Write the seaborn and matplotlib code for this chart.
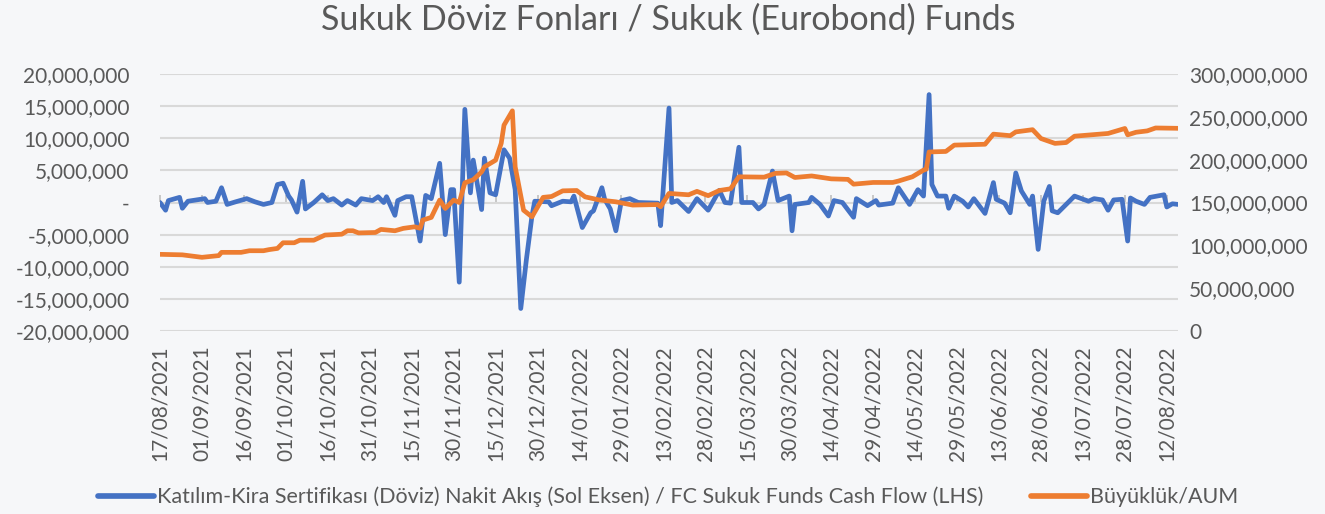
import matplotlib
matplotlib.use("Agg")
import matplotlib.pyplot as plt
import matplotlib.dates as mdates
from matplotlib.ticker import FuncFormatter, MultipleLocator
from matplotlib.lines import Line2D
import seaborn as sns
import pandas as pd

# ---------------- data ----------------
title = "Sukuk Döviz Fonları / Sukuk (Eurobond) Funds"
flow_label = "Katılım-Kira Sertifikası (Döviz) Nakit Akış (Sol Eksen) / FC Sukuk Funds Cash Flow (LHS)"
aum_label = "Büyüklük/AUM"

flow_dates = [
    "2021-08-17", "2021-08-19", "2021-08-20", "2021-08-24", "2021-08-25", "2021-08-27",
    "2021-09-02", "2021-09-03", "2021-09-06", "2021-09-08", "2021-09-10", "2021-09-13",
    "2021-09-17", "2021-09-20", "2021-09-23", "2021-09-26", "2021-09-28", "2021-09-30",
    "2021-10-02", "2021-10-03", "2021-10-05", "2021-10-07", "2021-10-08", "2021-10-11",
    "2021-10-14", "2021-10-16", "2021-10-18", "2021-10-21", "2021-10-23", "2021-10-26",
    "2021-10-28", "2021-11-01", "2021-11-03", "2021-11-05", "2021-11-06", "2021-11-09",
    "2021-11-10", "2021-11-13", "2021-11-15", "2021-11-18", "2021-11-20", "2021-11-22",
    "2021-11-25", "2021-11-27", "2021-11-29", "2021-11-30", "2021-12-02", "2021-12-04",
    "2021-12-06", "2021-12-07", "2021-12-10", "2021-12-11", "2021-12-13", "2021-12-15",
    "2021-12-18", "2021-12-20", "2021-12-22", "2021-12-24", "2021-12-26", "2021-12-28",
    "2021-12-29", "2022-01-03", "2022-01-04", "2022-01-08", "2022-01-11", "2022-01-12",
    "2022-01-15", "2022-01-18", "2022-01-19", "2022-01-22", "2022-01-23", "2022-01-25",
    "2022-01-27", "2022-01-29", "2022-02-01", "2022-02-04", "2022-02-11", "2022-02-12",
    "2022-02-15", "2022-02-16", "2022-02-18", "2022-02-22", "2022-02-25", "2022-03-01",
    "2022-03-05", "2022-03-07", "2022-03-09", "2022-03-12", "2022-03-13", "2022-03-17",
    "2022-03-19", "2022-03-21", "2022-03-24", "2022-03-26", "2022-03-30", "2022-03-31",
    "2022-04-01", "2022-04-06", "2022-04-07", "2022-04-10", "2022-04-13", "2022-04-15",
    "2022-04-18", "2022-04-22", "2022-04-23", "2022-04-27", "2022-04-30", "2022-05-01",
    "2022-05-06", "2022-05-08", "2022-05-12", "2022-05-15", "2022-05-17", "2022-05-19",
    "2022-05-20", "2022-05-22", "2022-05-25", "2022-05-26", "2022-05-28", "2022-05-31",
    "2022-06-02", "2022-06-04", "2022-06-08", "2022-06-11", "2022-06-12", "2022-06-15",
    "2022-06-17", "2022-06-19", "2022-06-21", "2022-06-24", "2022-06-25", "2022-06-27",
    "2022-06-29", "2022-07-01", "2022-07-02", "2022-07-04", "2022-07-07", "2022-07-10",
    "2022-07-15", "2022-07-17", "2022-07-20", "2022-07-22", "2022-07-24", "2022-07-27",
    "2022-07-29", "2022-07-30", "2022-08-01", "2022-08-04", "2022-08-06", "2022-08-11",
    "2022-08-12", "2022-08-14", "2022-08-16",
]
# cash flow, million
flow_values_m = [
    0.0, -1.2, 0.3, 0.8, -0.9, 0.2,
    0.6, 0.0, 0.2, 2.3, -0.3, 0.1,
    0.6, 0.1, -0.3, 0.0, 2.8, 3.0,
    1.0, 0.4, -1.5, 3.3, -1.0, 0.0,
    1.2, 0.3, 0.6, -0.4, 0.3, -0.4,
    0.6, 0.3, 0.9, 0.0, 0.9, -2.0,
    0.3, 0.9, 0.9, -6.0, 1.1, 0.6,
    6.1, -5.0, 2.0, 2.0, -12.4, 14.5,
    1.5, 6.6, -1.1, 6.9, 1.5, 1.2,
    8.2, 6.9, 2.0, -16.5, -8.9, -2.1,
    0.2, 0.1, -0.5, 0.2, 0.1, 1.0,
    -3.9, -1.6, -1.3, 2.3, 0.5, -1.0,
    -4.4, 0.3, 0.6, 0.0, -0.1, -3.6,
    14.7, 0.0, 0.3, -1.4, 0.6, -1.2,
    1.9, 0.0, -0.1, 8.6, 0.0, 0.0,
    -1.0, -0.3, 4.9, 0.3, 1.0, -4.4,
    -0.3, 0.0, 0.8, -0.3, -2.1, 0.3,
    0.0, -2.3, 0.6, -0.5, 0.3, -0.4,
    -0.1, 2.3, -0.3, 2.0, 1.0, 16.8,
    2.8, 1.0, 1.0, -0.9, 1.0, 0.2,
    -0.7, 0.6, -1.7, 3.1, 0.5, -0.1,
    -1.6, 4.6, 1.8, -0.3, 1.0, -7.3,
    0.2, 2.5, -1.3, -1.6, -0.3, 1.0,
    0.2, 0.6, 0.4, -1.2, 0.4, 0.5,
    -6.0, 0.7, 0.2, -0.3, 0.8, 1.2,
    -0.7, -0.2, -0.3,
]

aum_dates = [
    "2021-08-17", "2021-08-25", "2021-09-01", "2021-09-07", "2021-09-08", "2021-09-15",
    "2021-09-18", "2021-09-23", "2021-09-25", "2021-09-28", "2021-09-30", "2021-10-04",
    "2021-10-06", "2021-10-11", "2021-10-15", "2021-10-21", "2021-10-23", "2021-10-25",
    "2021-10-27", "2021-11-02", "2021-11-04", "2021-11-09", "2021-11-12", "2021-11-16",
    "2021-11-18", "2021-11-19", "2021-11-22", "2021-11-25", "2021-11-27", "2021-11-30",
    "2021-12-02", "2021-12-04", "2021-12-07", "2021-12-10", "2021-12-11", "2021-12-15",
    "2021-12-17", "2021-12-18", "2021-12-21", "2021-12-22", "2021-12-25", "2021-12-28",
    "2022-01-01", "2022-01-04", "2022-01-08", "2022-01-13", "2022-01-16", "2022-01-21",
    "2022-01-27", "2022-02-02", "2022-02-11", "2022-02-12", "2022-02-15", "2022-02-22",
    "2022-02-25", "2022-03-01", "2022-03-05", "2022-03-09", "2022-03-12", "2022-03-21",
    "2022-03-25", "2022-03-29", "2022-04-01", "2022-04-07", "2022-04-14", "2022-04-20",
    "2022-04-22", "2022-04-29", "2022-05-06", "2022-05-08", "2022-05-13", "2022-05-17",
    "2022-05-18", "2022-05-19", "2022-05-25", "2022-05-28", "2022-06-08", "2022-06-11",
    "2022-06-17", "2022-06-19", "2022-06-25", "2022-06-28", "2022-07-03", "2022-07-07",
    "2022-07-10", "2022-07-16", "2022-07-22", "2022-07-28", "2022-07-29", "2022-08-01",
    "2022-08-05", "2022-08-08", "2022-08-16",
]
# AUM, million
aum_values_m = [
    89.5, 88.9, 86.0, 88.0, 91.8, 91.8,
    93.7, 93.7, 95.0, 96.4, 103.0, 103.0,
    106.0, 106.0, 112.0, 113.0, 117.0, 117.0,
    114.5, 115.0, 118.6, 117.0, 119.8, 121.6,
    120.0, 129.5, 132.6, 152.8, 143.0, 152.8,
    150.0, 173.0, 176.5, 185.8, 191.6, 199.4,
    219.0, 240.3, 257.0, 191.6, 141.0, 133.3,
    156.0, 157.0, 163.6, 164.0, 156.6, 153.0,
    150.8, 147.0, 147.6, 145.0, 160.6, 159.0,
    163.0, 158.0, 164.0, 166.0, 180.0, 179.6,
    184.0, 184.5, 179.2, 181.0, 177.6, 177.0,
    171.4, 173.4, 173.4, 175.0, 180.0, 187.8,
    189.0, 209.0, 209.6, 217.0, 218.0, 229.8,
    228.0, 232.4, 235.0, 224.7, 219.0, 220.0,
    227.4, 229.0, 230.6, 236.4, 229.0, 232.0,
    233.6, 237.0, 236.6,
]

tick_start = "2021-08-17"
tick_end = "2022-08-12"
x_end = "2022-08-16"

# ---------------- styling ----------------
BLUE = "#4472C4"
ORANGE = "#ED7D31"
TEXT = "#595959"
GRID = "#D9D9D9"
BG = "#F6F7F9"

sns.set_theme(style="white")
plt.rcParams["font.family"] = ["Lato", "DejaVu Sans"]
plt.rcParams["text.color"] = TEXT

flow_df = pd.DataFrame({"date": pd.to_datetime(flow_dates),
                        "value": [v * 1e6 for v in flow_values_m]})
aum_df = pd.DataFrame({"date": pd.to_datetime(aum_dates),
                       "value": [v * 1e6 for v in aum_values_m]})

fig = plt.figure(figsize=(13.25, 5.14), dpi=100, facecolor=BG)
ax = fig.add_axes([160 / 1325, 1 - 331 / 514, (1178 - 160) / 1325, (331 - 74) / 514])
ax.set_facecolor("none")
ax2 = ax.twinx()
ax2.set_facecolor("none")

LW = 3.4
sns.lineplot(data=flow_df, x="date", y="value", ax=ax, color=BLUE, linewidth=LW,
             legend=False, solid_joinstyle="round", solid_capstyle="round", zorder=3)
sns.lineplot(data=aum_df, x="date", y="value", ax=ax2, color=ORANGE, linewidth=LW,
             legend=False, solid_joinstyle="round", solid_capstyle="round", zorder=4)

# axes limits and ticks
ax.set_xlim(pd.Timestamp(tick_start), pd.Timestamp(x_end))
ax.set_ylim(-20e6, 20e6)
ax2.set_ylim(0, 300e6)
ax.yaxis.set_major_locator(MultipleLocator(5e6))
ax2.yaxis.set_major_locator(MultipleLocator(50e6))


def left_fmt(v, _):
    if abs(v) < 1:
        return "-"
    return f"{v:,.0f}"


ax.yaxis.set_major_formatter(FuncFormatter(left_fmt))
ax2.yaxis.set_major_formatter(FuncFormatter(lambda v, _: f"{v:,.0f}"))

xticks = pd.date_range(tick_start, tick_end, freq="15D")
ax.set_xticks(xticks)
ax.xaxis.set_major_formatter(mdates.DateFormatter("%d/%m/%Y"))

for a in (ax, ax2):
    for s in a.spines.values():
        s.set_visible(False)
    a.set_xlabel("")
    a.set_ylabel("")

ax.grid(axis="y", color=GRID, linewidth=1.5, zorder=0)
ax.grid(axis="x", visible=False)
ax2.grid(False)

TICK_FS = 15
ax.tick_params(axis="x", length=0, pad=10, labelsize=TICK_FS, labelcolor=TEXT, labelrotation=90)
ax.tick_params(axis="y", length=0, pad=22, labelsize=TICK_FS, labelcolor=TEXT)
ax2.tick_params(axis="y", length=0, pad=8, labelsize=TICK_FS, labelcolor=TEXT)

# small category-axis tick marks on the zero line
sec = ax.secondary_xaxis(0.5)
sec.set_xticks(xticks)
sec.tick_params(axis="x", direction="out", length=5, width=1.2, color="#BFBFBF",
                labelbottom=False, labeltop=False)
for s in sec.spines.values():
    s.set_visible(False)

fig.text(0.504, 0.962, title, ha="center", va="center", fontsize=24.5, color=TEXT)

handles = [Line2D([], [], color=BLUE, linewidth=LW * 1.2, solid_capstyle="round"),
           Line2D([], [], color=ORANGE, linewidth=LW * 1.2, solid_capstyle="round")]
leg = fig.legend(handles, [flow_label, aum_label], loc="center", bbox_to_anchor=(0.504, 0.033),
                 ncol=2, frameon=False, fontsize=15.5, handlelength=2.6,
                 handletextpad=0.15, columnspacing=2.2)
for t in leg.get_texts():
    t.set_color(TEXT)

fig.savefig("out.png", dpi=100, facecolor=BG)
